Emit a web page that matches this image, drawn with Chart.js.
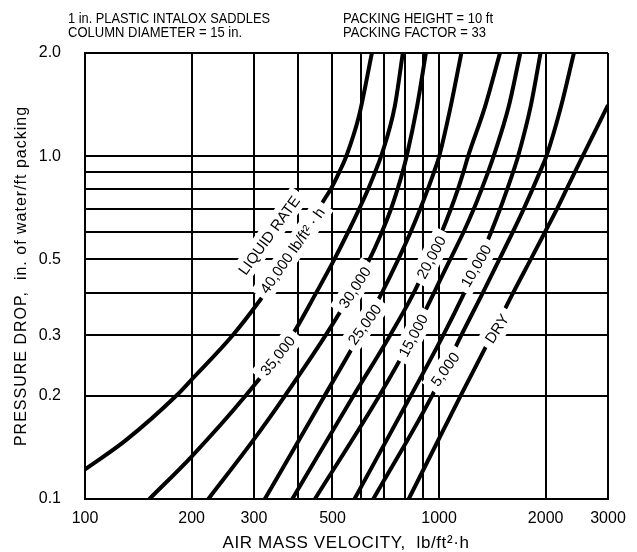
<!DOCTYPE html>
<html>
<head>
<meta charset="utf-8">
<script src="https://cdn.jsdelivr.net/npm/chart.js"></script>
<style>
    body { margin: 0; background: #fff; }
    canvas { display: block; }
</style>
</head>
<body>
<canvas id="packing-chart" width="637" height="552"></canvas>
<script>
// air mass velocity (lb/ft2.h) and pressure drop (in. water/ft)
const vel40000 = [100, 130, 181, 200, 261, 312, 390, 475, 494, 523, 547, 594, 646];
const drop40000 = [0.122, 0.148, 0.2, 0.223, 0.3, 0.38, 0.531, 0.75, 0.8, 0.9, 1.0, 1.31, 2.0];

const vel35000 = [152, 200, 284, 384, 450, 506, 553, 594, 630, 660, 686, 750, 790];
const drop35000 = [0.1, 0.133, 0.2, 0.3, 0.4, 0.5, 0.6, 0.7, 0.8, 0.9, 1.0, 1.4, 2.0];

const vel30000 = [223, 301, 367, 478, 566, 636, 689, 731, 763, 789, 810, 867, 918];
const drop30000 = [0.1, 0.15, 0.2, 0.3, 0.4, 0.5, 0.6, 0.7, 0.8, 0.9, 1.0, 1.4, 2.0];

const vel25000 = [322, 475, 595, 690, 767, 831, 884, 929, 968, 1001, 1079, 1156];
const drop25000 = [0.1, 0.2, 0.3, 0.4, 0.5, 0.6, 0.7, 0.8, 0.9, 1.0, 1.4, 2.0];

const vel20000 = [385, 573, 727, 849, 940, 1017, 1079, 1130, 1172, 1208, 1350, 1486];
const drop20000 = [0.1, 0.2, 0.3, 0.4, 0.5, 0.6, 0.7, 0.8, 0.9, 1.0, 1.4, 2.0];

const vel15000 = [446, 678, 845, 968, 1075, 1172, 1252, 1318, 1376, 1426, 1574, 1696];
const drop15000 = [0.1, 0.2, 0.3, 0.4, 0.5, 0.6, 0.7, 0.8, 0.9, 1.0, 1.4, 2.0];

const vel10000 = [577, 832, 1027, 1179, 1302, 1402, 1486, 1557, 1619, 1672, 1815, 1935];
const drop10000 = [0.1, 0.2, 0.3, 0.4, 0.5, 0.6, 0.7, 0.8, 0.9, 1.0, 1.4, 2.0];

const vel5000 = [652, 955, 1155, 1330, 1480, 1614, 1732, 1835, 1927, 2010, 2212, 2403];
const drop5000 = [0.1, 0.2, 0.3, 0.4, 0.5, 0.6, 0.7, 0.8, 0.9, 1.0, 1.4, 2.0];

const velDry = [821, 1150, 1408, 1620, 1815, 1990, 2150, 2290, 2420, 2545, 3000];
const dropDry = [0.1, 0.2, 0.3, 0.4, 0.5, 0.6, 0.7, 0.8, 0.9, 1.0, 1.41];

const xGrid = [100, 200, 300, 400, 500, 600, 700, 800, 900, 1000, 2000, 3000];
const xTickLabels = [100, 200, 300, 500, 1000, 2000, 3000];
const yGrid = [0.1, 0.2, 0.3, 0.4, 0.5, 0.6, 0.7, 0.8, 0.9, 1.0, 2.0];
const yTickLabels = [0.1, 0.2, 0.3, 0.5, 1.0, 2.0];

// curve labels, placed in data units along the curves
const labelTexts = ['LIQUID RATE', '40,000 lb/ft\u00b2 \u00b7 h', '35,000', '30,000', '25,000',
    '20,000', '15,000', '10,000', '5,000', 'DRY'];
const labelVel = [331, 385, 350, 578, 616, 950, 845, 1272, 1040, 1457];
const labelDrop = [0.588, 0.531, 0.262, 0.414, 0.323, 0.507, 0.3, 0.479, 0.239, 0.314];
const labelAngle = [-54, -55, -51, -57, -54, -62, -62, -60, -54, -57];

const FONT = '"Liberation Sans", Arial, Helvetica, sans-serif';

function toPoints(xs, ys) {
    return xs.map((v, i) => ({ x: v, y: ys[i] }));
}

const curveLabels = {
    id: 'curveLabels',
    afterDatasetsDraw(chart) {
        const { ctx, scales } = chart;
        ctx.save();
        ctx.font = '15px ' + FONT;
        ctx.textAlign = 'center';
        ctx.textBaseline = 'middle';
        labelTexts.forEach((text, i) => {
            const px = scales.x.getPixelForValue(labelVel[i]);
            const py = scales.y.getPixelForValue(labelDrop[i]);
            const w = ctx.measureText(text).width;
            ctx.save();
            ctx.translate(px, py);
            ctx.rotate(labelAngle[i] * Math.PI / 180);
            ctx.fillStyle = '#fff';
            ctx.fillRect(-w / 2 - 6, -11, w + 12, 22);
            ctx.fillStyle = '#000';
            ctx.fillText(text, 0, 1);
            ctx.restore();
        });
        ctx.restore();
    }
};

const headerText = {
    id: 'headerText',
    afterDraw(chart) {
        const ctx = chart.ctx;
        ctx.save();
        ctx.fillStyle = '#000';
        ctx.textBaseline = 'alphabetic';
        ctx.textAlign = 'left';
        ctx.font = '15px ' + FONT;
        ctx.fillText('1 in. PLASTIC INTALOX SADDLES', 68, 23, 202);
        ctx.fillText('COLUMN DIAMETER = 15 in.', 68, 37, 174);
        ctx.fillText('PACKING HEIGHT = 10 ft', 343, 23, 150);
        ctx.fillText('PACKING FACTOR = 33', 343, 37, 143);

        // axis titles
        ctx.font = '17px ' + FONT;
        ctx.letterSpacing = '0.6px';
        ctx.textAlign = 'center';
        ctx.fillText('AIR MASS VELOCITY,  lb/ft\u00b2\u00b7h', 346, 548);

        ctx.font = '16px ' + FONT;
        ctx.letterSpacing = '1px';
        ctx.translate(26, 276);
        ctx.rotate(-Math.PI / 2);
        ctx.fillText('PRESSURE DROP,  in. of water/ft packing', 0, 0);
        ctx.restore();
    }
};

function drawChart() {
    const ctx = document.getElementById('packing-chart').getContext('2d');
    const series = [
        [vel40000, drop40000], [vel35000, drop35000], [vel30000, drop30000],
        [vel25000, drop25000], [vel20000, drop20000], [vel15000, drop15000],
        [vel10000, drop10000], [vel5000, drop5000], [velDry, dropDry]
    ];

    return new Chart(ctx, {
        type: 'line',
        data: {
            datasets: series.map(s => ({
                data: toPoints(s[0], s[1]),
                borderColor: '#000',
                borderWidth: 4,
                pointRadius: 0,
                fill: false,
                cubicInterpolationMode: 'monotone'
            }))
        },
        options: {
            responsive: false,
            animation: false,
            devicePixelRatio: 1,
            layout: { padding: { top: 53, right: 29, bottom: 0, left: 0 } },
            plugins: { legend: { display: false }, tooltip: { enabled: false } },
            scales: {
                x: {
                    type: 'logarithmic',
                    min: 100,
                    max: 3000,
                    afterBuildTicks: scale => { scale.ticks = xGrid.map(v => ({ value: v })); },
                    afterFit: scale => { scale.height = 53; },
                    grid: { color: '#000', lineWidth: 2, drawTicks: false },
                    border: { color: '#000', width: 2 },
                    ticks: {
                        autoSkip: false,
                        maxRotation: 0,
                        padding: 10,
                        color: '#000',
                        font: { family: FONT, size: 16 },
                        callback: v => xTickLabels.includes(v) ? String(v) : ''
                    }
                },
                y: {
                    type: 'logarithmic',
                    min: 0.1,
                    max: 2.0,
                    afterBuildTicks: scale => { scale.ticks = yGrid.map(v => ({ value: v })); },
                    afterFit: scale => { scale.width = 85; },
                    grid: { color: '#000', lineWidth: 2, drawTicks: false },
                    border: { color: '#000', width: 2 },
                    ticks: {
                        autoSkip: false,
                        padding: 24,
                        color: '#000',
                        font: { family: FONT, size: 16 },
                        callback: v => yTickLabels.includes(v) ? v.toFixed(1) : ''
                    }
                }
            }
        },
        plugins: [curveLabels, headerText]
    });
}

let chart = drawChart();
</script>
</body>
</html>
